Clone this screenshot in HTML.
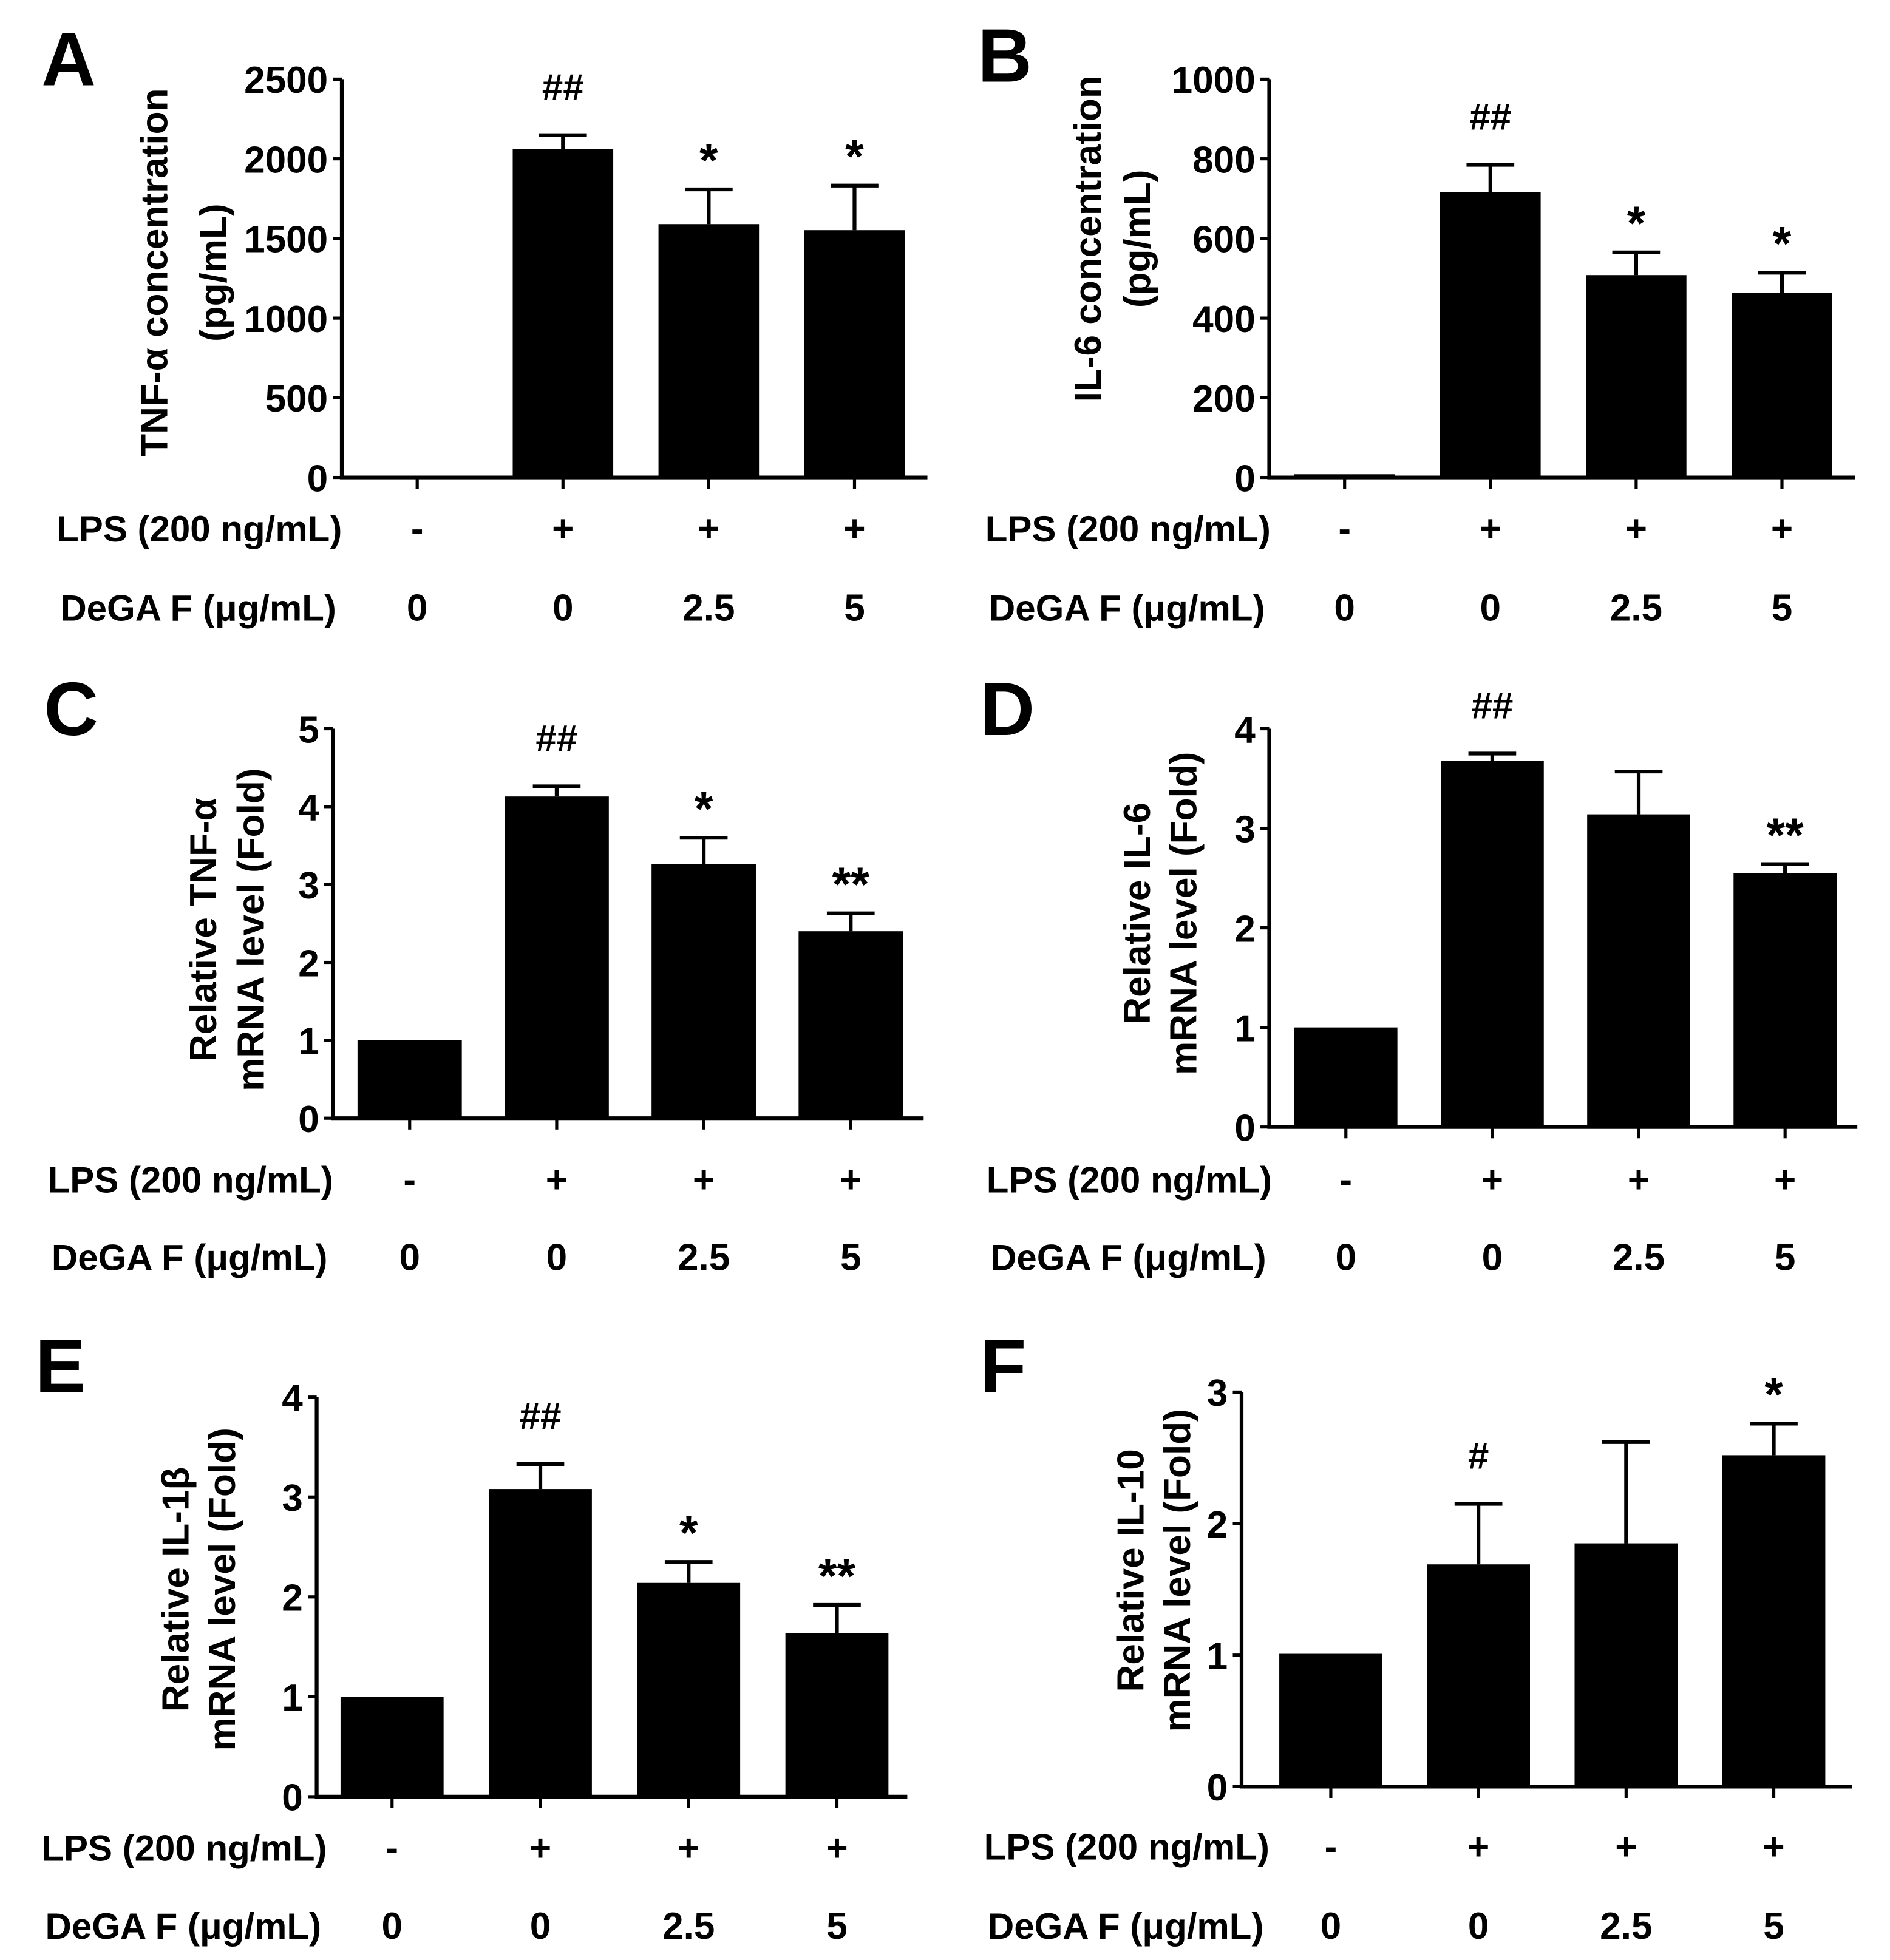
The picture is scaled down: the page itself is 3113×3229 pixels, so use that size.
<!DOCTYPE html>
<html><head><meta charset="utf-8">
<style>
html,body{margin:0;padding:0;background:#fff;}
svg{display:block;}
text{font-family:"Liberation Sans",Arial,sans-serif;font-weight:bold;fill:#000;}
</style></head>
<body>
<svg id="fig" width="3113" height="3229" viewBox="0 0 1504 1560" preserveAspectRatio="none" xmlns="http://www.w3.org/2000/svg"></svg>
<script>
// ---- data ----
const lpsLabels = ["-", "+", "+", "+"];
const degaLabels = ["0", "0", "2.5", "5"];

const aMeans = [10, 2060, 1590, 1552];
const aErrs  = [0, 88, 218, 280];
const aTicks = [0, 500, 1000, 1500, 2000, 2500];
const aMarks = ["", "##", "*", "*"];

const bMeans = [8, 716, 508, 464];
const bErrs  = [0, 69, 57, 50];
const bTicks = [0, 200, 400, 600, 800, 1000];
const bMarks = ["", "##", "*", "*"];

const cMeans = [1.0, 4.13, 3.26, 2.40];
const cErrs  = [0, 0.13, 0.34, 0.23];
const cTicks = [0, 1, 2, 3, 4, 5];
const cMarks = ["", "##", "*", "**"];

const dMeans = [1.0, 3.68, 3.14, 2.55];
const dErrs  = [0, 0.07, 0.43, 0.09];
const dTicks = [0, 1, 2, 3, 4];
const dMarks = ["", "##", "", "**"];

const eMeans = [1.0, 3.08, 2.14, 1.64];
const eErrs  = [0, 0.25, 0.21, 0.28];
const eTicks = [0, 1, 2, 3, 4];
const eMarks = ["", "##", "*", "**"];

const fMeans = [1.01, 1.69, 1.85, 2.52];
const fErrs  = [0, 0.46, 0.77, 0.24];
const fTicks = [0, 1, 2, 3];
const fMarks = ["", "#", "", "*"];

// ---- layout ----
const panels = [
 {id:"a", letter:"A", lx:33, ly:68, ax:272, top:63, base:380, right:738, c0:332, step:116, bw:80, max:2500,
  means:aMeans, errs:aErrs, ticks:aTicks, marks:aMarks, t1:"TNF-α concentration", t2:"(pg/mL)", tx1:133, tx2:180, tcy:217,
  lpsY:431, degaY:494, labL:45},
 {id:"b", letter:"B", lx:778, ly:65, ax:1010, top:63, base:380, right:1476, c0:1070, step:116, bw:80, max:1000,
  means:bMeans, errs:bErrs, ticks:bTicks, marks:bMarks, t1:"IL-6 concentration", t2:"(pg/mL)", tx1:876, tx2:915, tcy:190,
  lpsY:431, degaY:494, labL:784},
 {id:"c", letter:"C", lx:35, ly:585, ax:265, top:580, base:890, right:735, c0:326, step:117, bw:83, max:5,
  means:cMeans, errs:cErrs, ticks:cTicks, marks:cMarks, t1:"Relative TNF-α", t2:"mRNA level (Fold)", tx1:172, tx2:210, tcy:740,
  lpsY:949, degaY:1011, labL:38},
 {id:"d", letter:"D", lx:780, ly:585, ax:1010, top:580, base:897, right:1478, c0:1071, step:116.5, bw:82, max:4,
  means:dMeans, errs:dErrs, ticks:dTicks, marks:dMarks, t1:"Relative IL-6", t2:"mRNA level (Fold)", tx1:915, tx2:952, tcy:727,
  lpsY:949, degaY:1011, labL:785},
 {id:"e", letter:"E", lx:28, ly:1108, ax:252, top:1112, base:1430, right:722, c0:312, step:118, bw:82, max:4,
  means:eMeans, errs:eErrs, ticks:eTicks, marks:eMarks, t1:"Relative IL-1β", t2:"mRNA level (Fold)", tx1:150, tx2:187, tcy:1265,
  lpsY:1481, degaY:1543, labL:33},
 {id:"f", letter:"F", lx:780, ly:1108, ax:988, top:1108, base:1422, right:1474, c0:1059, step:117.5, bw:82, max:3,
  means:fMeans, errs:fErrs, ticks:fTicks, marks:fMarks, t1:"Relative IL-10", t2:"mRNA level (Fold)", tx1:910, tx2:947, tcy:1250,
  lpsY:1480, degaY:1543, labL:783}
];

const NS = "http://www.w3.org/2000/svg";
const svg = document.getElementById("fig");
function mk(tag, attrs, parent){
  const e = document.createElementNS(NS, tag);
  for (const k in attrs) e.setAttribute(k, attrs[k]);
  parent.appendChild(e);
  return e;
}

panels.forEach(p => {
  const g = mk("g", {}, svg);
  
  
  const y = v => p.base - (v / p.max) * (p.base - p.top);
  const x = i => p.c0 + i * p.step;

  const L = mk("text", {x:p.lx, y:p.ly, "font-size":60}, g);
  L.textContent = p.letter;
  
  

  p.means.forEach((m, i) => {
    const top = y(m);
    const r = mk("rect", {x:x(i) - p.bw/2, y:top, width:p.bw, height:Math.max(p.base - top, 1.5), fill:"#000"}, g);
    
    
    if (p.errs[i] > 0) {
      const et = y(m + p.errs[i]);
      const el = mk("path", {d:`M${x(i)} ${top} V${et} M${x(i)-19} ${et} H${x(i)+19}`, stroke:"#000", "stroke-width":3, fill:"none"}, g);
      
      
    }
    if (p.marks[i]) {
      const etop = y(m + p.errs[i]);
      const isHash = p.marks[i].indexOf("#") >= 0;
      const t = mk("text", {x:x(i), y:etop - (isHash ? 28 : 10), "font-size": isHash ? 30 : 38, "text-anchor":"middle", "font-weight": isHash ? "normal" : "bold"}, g);
      t.textContent = p.marks[i];
      
      
    }
    const xt = mk("line", {x1:x(i), x2:x(i), y1:p.base, y2:p.base + 9, stroke:"#000", "stroke-width":2.5}, g);
    
    
    const lt = mk("text", {x:x(i), y:p.lpsY, "font-size":30, "text-anchor":"middle"}, g);
    lt.textContent = lpsLabels[i];
    
    
    const dt = mk("text", {x:x(i), y:p.degaY, "font-size":30, "text-anchor":"middle"}, g);
    dt.textContent = degaLabels[i];
    
    
  });

  const ax = mk("path", {d:`M${p.ax} ${p.top} V${p.base} H${p.right}`, stroke:"#000", "stroke-width":3, fill:"none"}, g);
  
  
  p.ticks.forEach(tv => {
    const yt = y(tv);
    const tl = mk("line", {x1:p.ax - 7, x2:p.ax, y1:yt, y2:yt, stroke:"#000", "stroke-width":2.5}, g);
    
    
    const tt = mk("text", {x:p.ax - 11, y:yt + 11, "font-size":30, "text-anchor":"end"}, g);
    tt.textContent = tv;
    
    
  });

  [[p.t1, p.tx1], [p.t2, p.tx2]].forEach(([s, tx]) => {
    const t = mk("text", {x:tx, y:p.tcy, "font-size":30, "text-anchor":"middle", transform:`rotate(-90 ${tx} ${p.tcy})`}, g);
    t.textContent = s;
    
    
  });

  const r1 = mk("text", {x:p.labL, y:p.lpsY, "font-size":29}, g);
  r1.textContent = "LPS (200 ng/mL)";
  
  
  const r2 = mk("text", {x:p.labL + 3, y:p.degaY, "font-size":29}, g);
  r2.textContent = "DeGA F (μg/mL)";
  
  
});
</script>
</body></html>
